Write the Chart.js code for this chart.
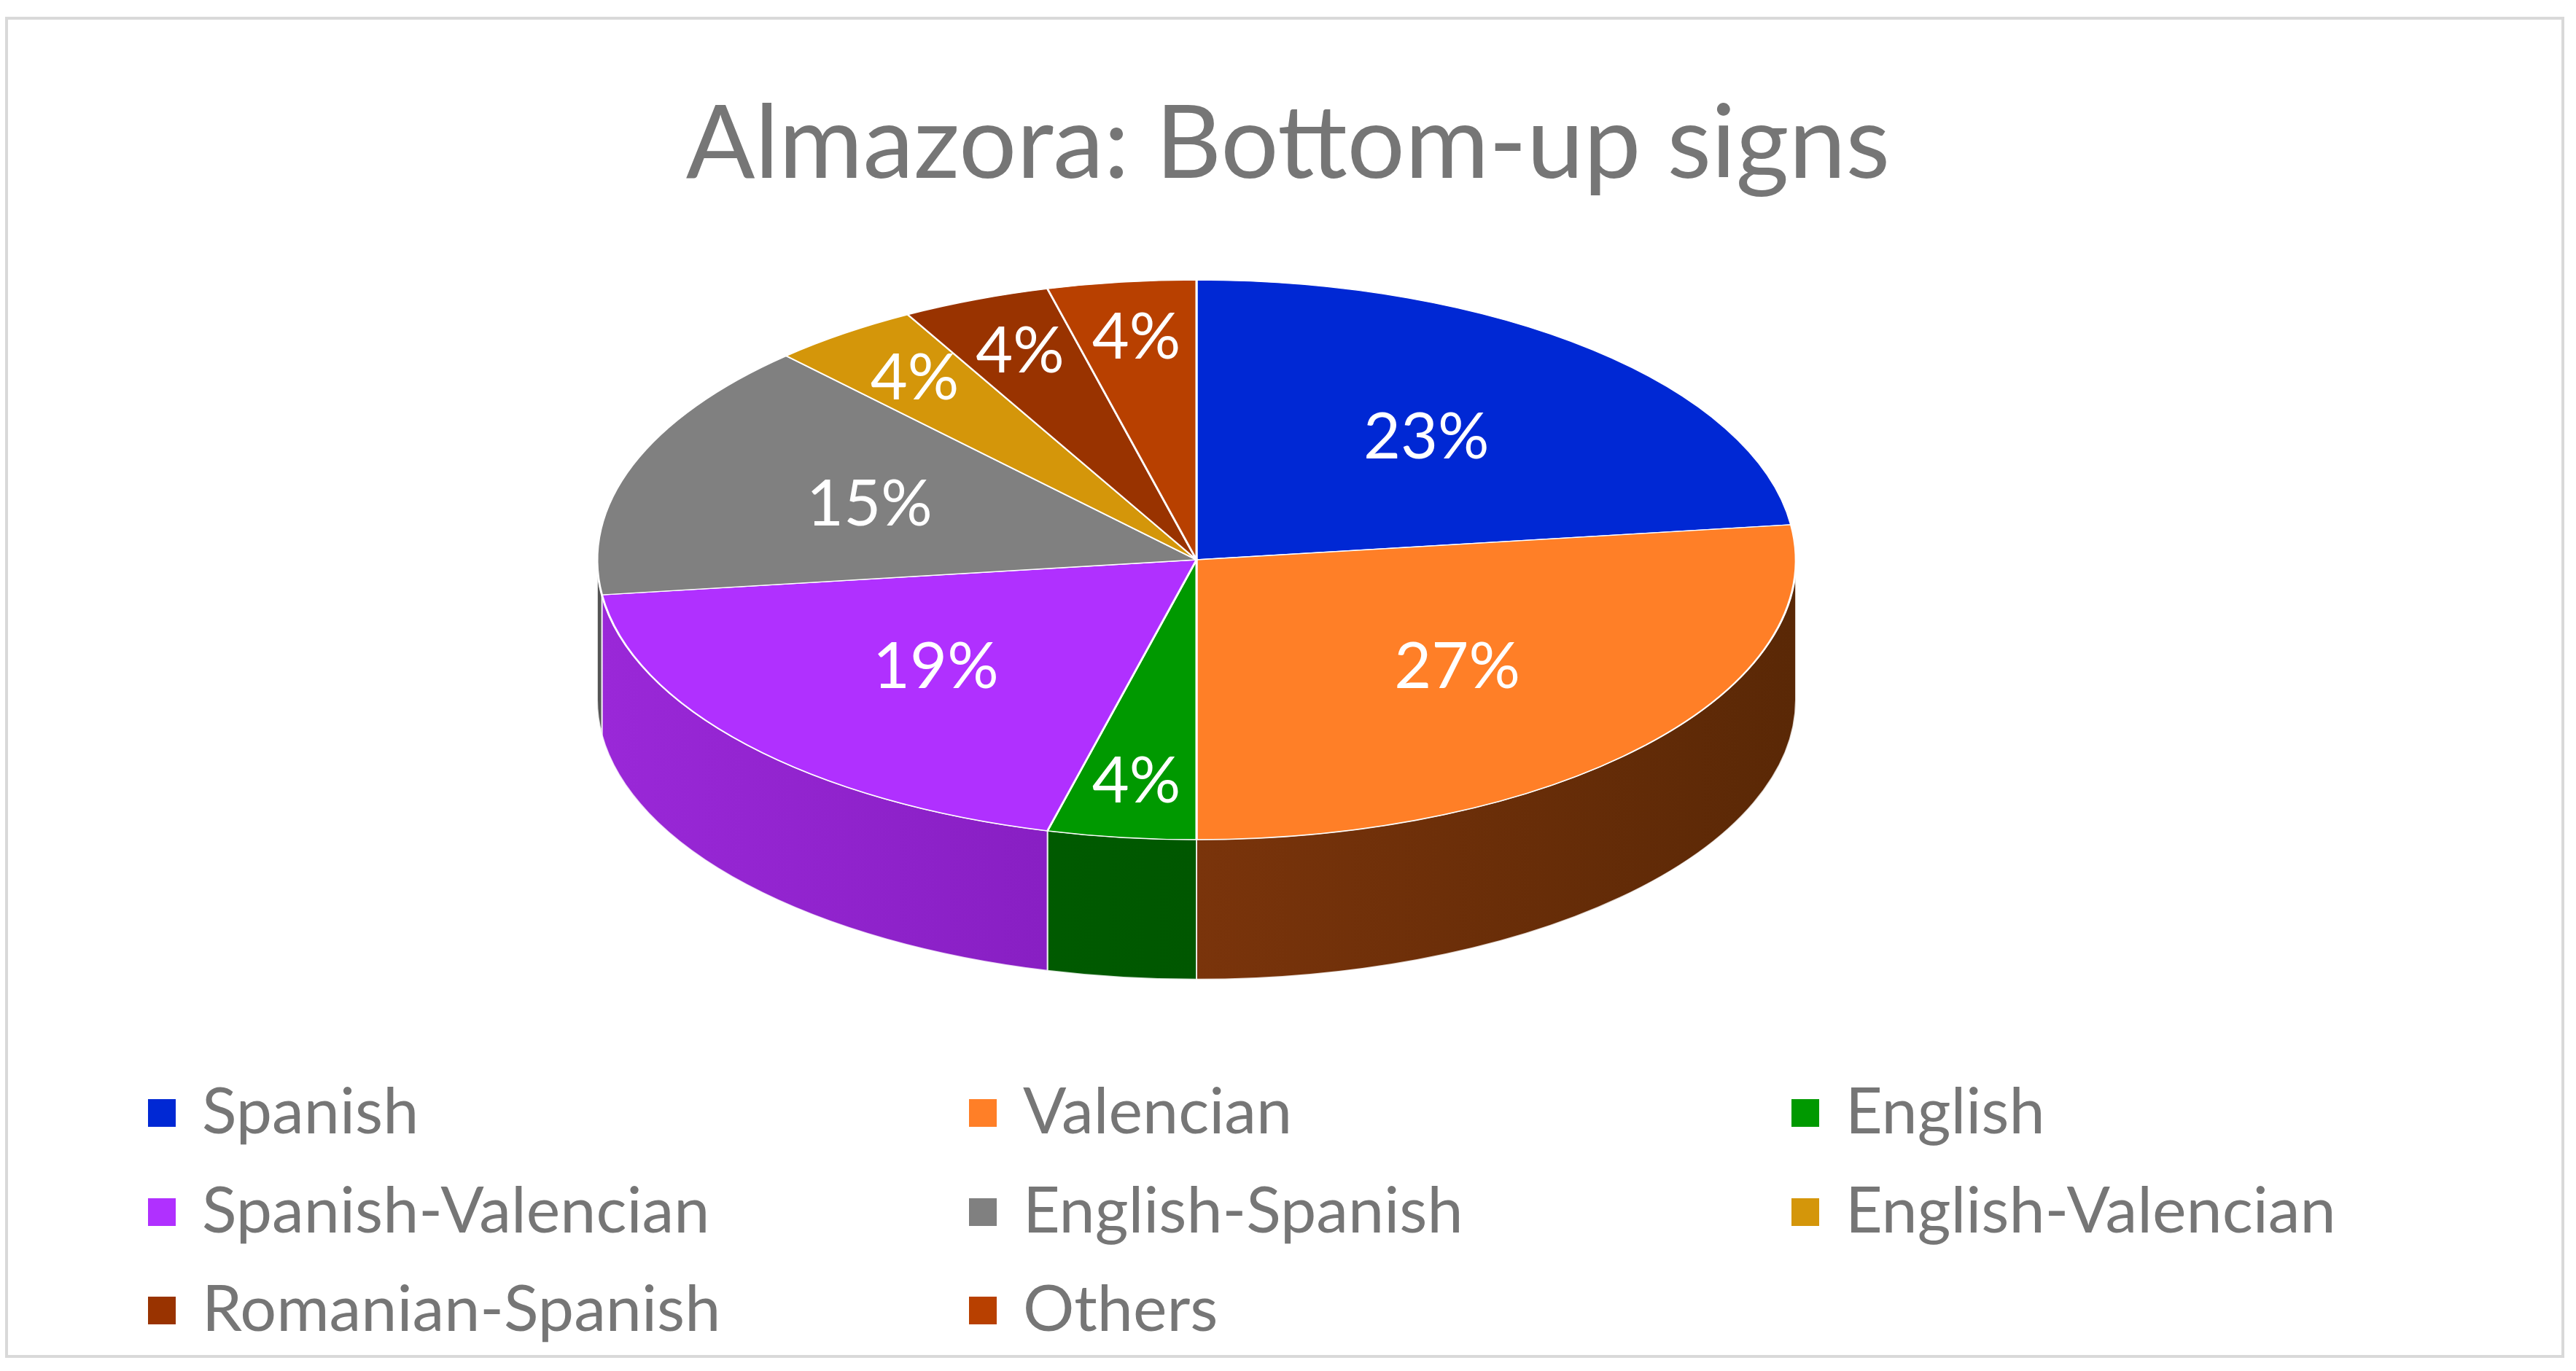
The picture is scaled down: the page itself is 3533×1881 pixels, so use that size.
<!DOCTYPE html>
<html><head><meta charset="utf-8">
<script src="https://cdn.jsdelivr.net/npm/chart.js@4"></script>
<style>
html,body{margin:0;padding:0;width:3533px;height:1881px;overflow:hidden;background:#fff;font-family:Lato,"Open Sans",sans-serif;}
#frame{position:absolute;left:7px;top:23px;width:3510px;height:1840px;border:4px solid #d9d9d9;box-sizing:border-box;}
#title{position:absolute;left:0;top:110px;width:3533px;text-align:center;font-size:140px;color:#767676;line-height:160px;z-index:2;}
#wrap{position:absolute;left:791px;top:-82px;width:1700px;height:1700px;}
.lg{position:absolute;font-size:88px;color:#767676;line-height:100px;z-index:2;white-space:nowrap;}
.lg span{display:inline-block;width:38px;height:38px;margin-right:36px;vertical-align:middle;position:relative;top:-6px;}
</style></head>
<body>
<div id="frame"></div>
<div id="title">Almazora: Bottom-up signs</div>
<div id="wrap"><canvas id="c" width="1700" height="1700"></canvas></div>
<div id="legend"></div>
<script>
const categories=["Spanish","Valencian","English","Spanish-Valencian","English-Spanish","English-Valencian","Romanian-Spanish","Others"];
const values=[23,27,4,19,15,4,4,4];
const colors=["#0028d4","#ff7f27","#009900","#b030ff","#808080","#d4960a","#993300","#b84000"];
const sideColors=[["#001a8a","#00106a"],["#9a4010","#5a2806"],["#006400","#004a00"],["#9a28d8","#6a10a0"],["#555","#444"],["#8a6000","#6a4a00"],["#662200","#4a1800"],["#7a2a00","#5a2000"]];
const K=0.467, DEPTH=192;

const leg=document.getElementById('legend');
const colX=[203,1329,2457], rowY=[1471,1607,1742];
categories.forEach((c,i)=>{
  const d=document.createElement('div');d.className='lg';
  d.style.left=colX[i%3]+'px';d.style.top=rowY[Math.floor(i/3)]+'px';
  d.innerHTML='<span style="background:'+colors[i]+'"></span>'+c;leg.appendChild(d);
});

const pie3d={
  id:'pie3d',
  beforeDatasetsDraw(chart){
    const ctx=chart.ctx, arcs=chart.getDatasetMeta(0).data;
    const cx=arcs[0].x, cy=arcs[0].y, R=arcs[0].outerRadius;
    // side walls
    arcs.forEach((a,i)=>{
      let s=a.startAngle, e=a.endAngle;
      // normalize to [0,2pi)
      const norm=v=>{while(v<0)v+=2*Math.PI;while(v>=2*Math.PI)v-=2*Math.PI;return v;};
      let s0=norm(s), e0=s0+(e-s);
      const ranges=[[0,Math.PI],[2*Math.PI,3*Math.PI]];
      ranges.forEach(([lo,hi])=>{
        const a0=Math.max(s0,lo), a1=Math.min(e0,hi);
        if(a1<=a0)return;
        const g=ctx.createLinearGradient(cx-R,0,cx+R,0);
        g.addColorStop(0,sideColors[i][0]);g.addColorStop(1,sideColors[i][1]);
        ctx.save();ctx.beginPath();
        ctx.ellipse(cx,cy,R,R*K,0,a0,a1,false);
        ctx.lineTo(cx+R*Math.cos(a1),cy+R*K*Math.sin(a1)+DEPTH);
        ctx.ellipse(cx,cy+DEPTH,R,R*K,0,a1,a0,true);
        ctx.closePath();ctx.fillStyle=g;ctx.fill();
        ctx.strokeStyle='rgba(255,255,255,0.8)';ctx.lineWidth=2;ctx.stroke();
        ctx.restore();
      });
    });
    ctx.save();
    ctx.translate(cx,cy);ctx.scale(1,K);ctx.translate(-cx,-cy);
  },
  afterDatasetsDraw(chart){
    const ctx=chart.ctx;ctx.restore();
    const arcs=chart.getDatasetMeta(0).data;
    ctx.save();ctx.fillStyle='#fff';ctx.font='88px Lato, "Open Sans", sans-serif';
    ctx.textAlign='center';ctx.textBaseline='middle';
    arcs.forEach((a,i)=>{
      const m=(a.startAngle+a.endAngle)/2;
      const r=a.outerRadius*(values[i]<5?0.8:0.58);
      ctx.fillText(values[i]+'%',a.x+r*Math.cos(m),a.y+r*K*Math.sin(m));
    });
    ctx.restore();
  }
};

new Chart(document.getElementById('c'),{
  type:'pie',
  data:{labels:categories,datasets:[{data:values,backgroundColor:colors,borderColor:'#fff',borderWidth:3,radius:822}]},
  options:{responsive:false,animation:false,devicePixelRatio:1,
    layout:{padding:0},
    plugins:{legend:{display:false},tooltip:{enabled:false}}},
  plugins:[pie3d]
});
</script>
</body></html>
